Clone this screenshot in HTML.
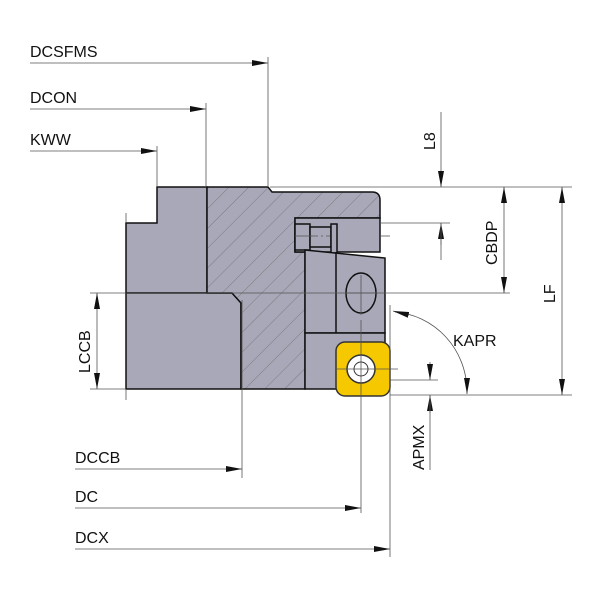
<!DOCTYPE html>
<html><head><style>body{margin:0;background:#fff}svg{display:block}text{font-family:"Liberation Sans",sans-serif;font-size:16px;fill:#111}</style></head><body>
<svg width="600" height="600" viewBox="0 0 600 600" xmlns="http://www.w3.org/2000/svg">
<defs>
<pattern id="h" patternUnits="userSpaceOnUse" width="14" height="14" patternTransform="rotate(45)"><rect width="14" height="14" fill="#a9a8b8"/><line x1="0" y1="0" x2="0" y2="14" stroke="#666" stroke-width="0.7"/></pattern>
<marker id="a" markerWidth="16" markerHeight="6" refX="16" refY="3" orient="auto" markerUnits="userSpaceOnUse"><path d="M0,0L16,3L0,6z" fill="#111"/></marker>
</defs>
<g stroke="#111" stroke-width="1.5">
<path d="M157,187H207V293H126V223H157Z" fill="#a9a8b8"/>
<path d="M126,293H232L241,303V389H126Z" fill="#a9a8b8"/>
<path d="M207,187H268L272,192H372Q380,192 380,200V218H295V252H305V389H241V303L232,293H207Z" fill="url(#h)"/>
<rect x="295" y="218" width="85" height="34" fill="#a9a8b8"/>
<rect x="295" y="224" width="15" height="26" fill="#a9a8b8"/>
<rect x="310" y="227" width="21" height="20" fill="#a9a8b8"/>
<rect x="331" y="224" width="6" height="29" fill="#a9a8b8"/>
<path d="M305,250L385,258V333H305Z" fill="#a9a8b8"/>
<line x1="336" y1="252" x2="336" y2="333"/>
<ellipse cx="361" cy="293" rx="15" ry="20" fill="#a9a8b8"/>
<rect x="305" y="333" width="80" height="56" fill="#a9a8b8"/>
<rect x="336" y="342" width="54" height="54" rx="9" fill="#f5c800" stroke="#333"/>
<circle cx="361" cy="369" r="14" fill="#fff" stroke="#333"/>
<circle cx="361" cy="369" r="7" fill="none" stroke="#333" stroke-width="1"/>
</g>
<g stroke="#555" stroke-width="0.8" fill="none">
<line x1="310" y1="236" x2="330" y2="236" stroke-dasharray="8 3 2 3"/>
<line x1="295" y1="236" x2="312" y2="236"/>
<line x1="361" y1="275" x2="361" y2="315"/>
<line x1="345" y1="293" x2="378" y2="293"/>
<line x1="30" y1="63" x2="268" y2="63" marker-end="url(#a)"/>
<line x1="268" y1="57" x2="268" y2="187"/>
<line x1="30" y1="109" x2="206" y2="109" marker-end="url(#a)"/>
<line x1="206" y1="103" x2="206" y2="187"/>
<line x1="30" y1="151" x2="157" y2="151" marker-end="url(#a)"/>
<line x1="157" y1="146" x2="157" y2="187"/>
<line x1="270" y1="187" x2="572" y2="187"/>
<line x1="380" y1="223" x2="450" y2="223"/>
<line x1="380" y1="236" x2="390" y2="236"/>
<line x1="90" y1="293" x2="510" y2="293"/>
<line x1="90" y1="389" x2="126" y2="389"/>
<line x1="126" y1="213" x2="126" y2="222"/>
<line x1="126" y1="389" x2="126" y2="400"/>
<line x1="97" y1="310" x2="97" y2="293" marker-end="url(#a)"/>
<line x1="97" y1="370" x2="97" y2="389" marker-end="url(#a)"/>
<line x1="97" y1="310" x2="97" y2="370"/>
<line x1="441" y1="112" x2="441" y2="187" marker-end="url(#a)"/>
<line x1="441" y1="245" x2="441" y2="223" marker-end="url(#a)"/>
<line x1="441" y1="223" x2="441" y2="260"/>
<line x1="504" y1="210" x2="504" y2="187" marker-end="url(#a)"/>
<line x1="504" y1="270" x2="504" y2="293" marker-end="url(#a)"/>
<line x1="504" y1="210" x2="504" y2="270"/>
<line x1="562" y1="210" x2="562" y2="187" marker-end="url(#a)"/>
<line x1="562" y1="372" x2="562" y2="395" marker-end="url(#a)"/>
<line x1="562" y1="210" x2="562" y2="372"/>
<line x1="390" y1="395" x2="572" y2="395"/>
<line x1="390" y1="380" x2="438" y2="380"/>
<line x1="336" y1="369" x2="398" y2="369"/>
<line x1="390" y1="305" x2="390" y2="557"/>
<line x1="361" y1="320" x2="361" y2="513"/>
<line x1="242" y1="300" x2="242" y2="478"/>
<line x1="430" y1="362" x2="430" y2="380" marker-end="url(#a)"/>
<line x1="430" y1="413" x2="430" y2="395" marker-end="url(#a)"/>
<line x1="430" y1="395" x2="430" y2="470"/>
<path d="M395,312A78,80 0 0 1 467,390"/>
<line x1="405" y1="314" x2="393" y2="311" marker-end="url(#a)"/>
<line x1="467" y1="378" x2="467" y2="394" marker-end="url(#a)"/>
<line x1="75" y1="469" x2="242" y2="469" marker-end="url(#a)"/>
<line x1="75" y1="508" x2="361" y2="508" marker-end="url(#a)"/>
<line x1="75" y1="549" x2="390" y2="549" marker-end="url(#a)"/>
</g>
<text x="30" y="57">DCSFMS</text>
<text x="30" y="103">DCON</text>
<text x="30" y="145">KWW</text>
<text x="75" y="463">DCCB</text>
<text x="75" y="502">DC</text>
<text x="75" y="543">DCX</text>
<text x="453" y="346">KAPR</text>
<text transform="translate(90,373) rotate(-90)">LCCB</text>
<text transform="translate(435,150) rotate(-90)">L8</text>
<text transform="translate(497,265) rotate(-90)">CBDP</text>
<text transform="translate(555,303) rotate(-90)">LF</text>
<text transform="translate(424,470) rotate(-90)">APMX</text>
</svg>
</body></html>
